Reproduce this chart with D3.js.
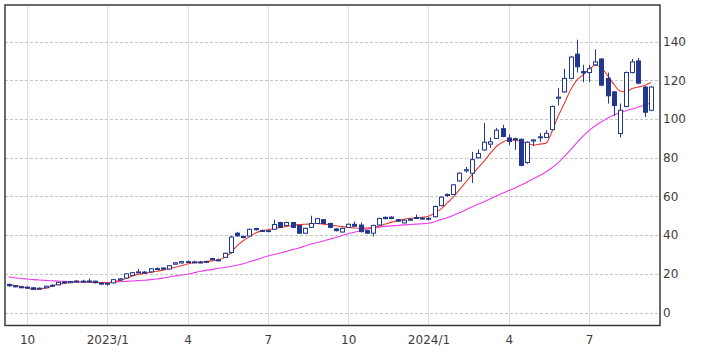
<!DOCTYPE html>
<html lang="en">
<head>
    <meta charset="UTF-8">
    <title>Weekly candlestick chart</title>
    <script src="https://d3js.org/d3.v7.min.js"></script>
    <style>
        body { margin: 0; background: #fff; }
        text { font-family: "DejaVu Sans", Verdana, sans-serif; }
    </style>
</head>
<body>
    <div id="chart-container"></div>

    <script>
        // Weekly bars, Mondays from 2022-09-12 to 2024-09-09
        const weeks = d3.utcMonday.range(new Date(Date.UTC(2022, 8, 12)), new Date(Date.UTC(2024, 8, 10)));

        const open = [
            14.5, 13.8, 13.3, 13.1, 12.8, 12.2, 12.8, 13.9, 14.3, 15.8,
            15.4, 15.8, 16.2, 16.0, 16.2, 15.2, 15.0, 15.3, 16.8, 17.8,
            19.2, 20.8, 20.9, 21.0, 22.5, 23.0, 22.5, 25.0, 25.6, 26.2,
            26.1, 26.0, 26.0, 27.9, 27.1, 28.5, 31.0, 41.0, 39.3, 39.5,
            43.4, 42.4, 42.0, 43.0, 46.5, 45.0, 46.5, 45.0, 41.0, 44.0,
            46.0, 48.0, 46.0, 43.2, 41.6, 44.0, 45.6, 45.2, 42.3, 41.0,
            45.2, 49.2, 49.3, 48.0, 46.3, 47.8, 48.8, 48.8, 48.4, 49.5,
            55.2, 61.0, 61.0, 68.0, 73.2, 72.0, 80.0, 84.0, 87.0, 90.0,
            95.0, 90.2, 89.8, 89.5, 77.5, 88.6, 90.3, 90.5, 94.5, 110.7,
            114, 121, 133.5, 124.5, 124, 128, 131, 121, 114, 92.5,
            106.5, 124, 130, 116.5, 104.5
        ];
        const close = [
            13.8, 13.4, 13.1, 12.9, 12.0, 12.6, 13.6, 14.1, 15.6, 15.3,
            16.0, 16.3, 16.1, 16.3, 15.4, 15.0, 15.1, 17.0, 17.4, 20.0,
            20.6, 21.0, 20.7, 22.6, 22.7, 22.4, 24.2, 25.7, 26.3, 26.3,
            26.2, 26.1, 26.4, 27.3, 27.2, 30.6, 39.0, 39.6, 39.0, 43.0,
            42.8, 42.1, 42.3, 45.5, 44.0, 46.5, 44.0, 41.0, 43.5, 46.0,
            48.5, 46.0, 44.0, 42.3, 43.5, 45.6, 44.6, 41.8, 41.0, 45.0,
            48.6, 48.5, 48.6, 47.2, 47.7, 48.2, 49.1, 48.5, 48.7, 54.8,
            59.6, 60.5, 66.0, 72.0, 73.8, 79.0, 82.2, 88.0, 88.2, 94.2,
            91.0, 88.4, 89.4, 76.0, 88.0, 89.2, 90.8, 92.6, 106.5, 111.3,
            121, 132, 127, 123.8, 126, 129.5, 117.5, 112, 107, 104.5,
            124, 129.5, 118.5, 103.5, 116.5
        ];
        const high = [
            15, 14.2, 13.8, 13.6, 13, 12.9, 13.9, 14.6, 15.9, 16.1,
            16.3, 16.6, 16.9, 17.6, 16.4, 15.6, 15.4, 17.3, 17.7, 20.3,
            21, 22.5, 21.4, 22.9, 23.3, 23.3, 24.5, 26, 26.8, 26.9,
            26.8, 26.7, 26.8, 28.2, 27.9, 31, 39.5, 41.7, 39.8, 43.4,
            43.8, 42.9, 42.8, 48, 46.9, 46.9, 46.8, 45.3, 43.9, 50,
            48.9, 48.3, 46.4, 43.6, 43.9, 46, 47, 46.5, 42.6, 45.4,
            49, 49.6, 49.7, 48.4, 48.1, 48.7, 50.6, 49.2, 49.2, 55.3,
            60, 61.5, 66.5, 72.5, 75.2, 83, 84.3, 98, 90.5, 95.3,
            97, 92, 90.3, 90, 88.5, 89.6, 92.7, 94.2, 107, 116,
            126, 132.6, 141, 128, 128, 136, 131.5, 124, 114.5, 108,
            124.5, 131, 131.5, 117, 117
        ];
        const low = [
            13.5, 13, 12.6, 12.4, 11.7, 11.8, 12.5, 13.5, 14.1, 15,
            15.2, 15.5, 15.6, 15.7, 15.1, 14.4, 13.9, 15, 16.5, 17.5,
            18.9, 20.4, 20.1, 20.7, 22, 22.1, 22.2, 24.7, 25.3, 25.6,
            25.5, 25.5, 25.6, 27, 26.6, 28.2, 30.5, 39.2, 38.3, 39.2,
            42.4, 41.6, 41.7, 42.7, 43.7, 44.7, 43.7, 40.6, 40.7, 43.7,
            45.7, 45.7, 43.6, 41.9, 41.2, 43.7, 44.3, 41.4, 40.6, 39.3,
            44.9, 48.2, 48.2, 46.8, 46, 47.4, 48.4, 47.9, 47.6, 49.2,
            54.9, 59.8, 60.7, 67.6, 72.3, 67, 79.6, 83.6, 85, 89.6,
            90.6, 86.5, 84, 75.6, 76.8, 86, 88.2, 90.1, 94, 107,
            113.5, 120.5, 124, 119, 119, 127.5, 117, 108, 101.5, 90.5,
            106, 123.6, 118, 101, 104
        ];
        // moving averages (red = 13 weeks, magenta = 26 weeks)
        const ma13 = [
            14.6, 14.0, 13.4, 12.8, 12.0, 12.2, 12.6, 13.6, 14.6, 15.0,
            15.5, 15.8, 16.0, 15.8, 15.6, 15.5, 15.3, 15.8, 16.5, 17.6,
            18.8, 19.7, 20.3, 20.8, 21.3, 21.9, 22.7, 23.4, 24.2, 25.1,
            25.7, 26.0, 26.3, 26.7, 27.3, 28.5, 30.9, 34.4, 37.1, 39.1,
            41.1, 42.2, 42.8, 43.4, 44.0, 44.5, 45.0, 45.4, 45.6, 45.8,
            46.0, 45.7, 45.3, 44.8, 44.4, 44.0, 43.7, 43.5, 43.7, 43.9,
            44.6, 45.7, 46.7, 47.4, 48.2, 48.7, 48.9, 49.2, 49.8, 51.4,
            53.4, 56.5, 59.6, 63.4, 67.2, 71.0, 74.6, 78.2, 82.2, 85.8,
            88.0, 89.3, 89.0, 88.3, 87.4, 86.5, 87.0, 87.4, 93.5, 101.5,
            108, 115, 120, 122.7, 125.7, 127.8, 126.5, 122.5, 118, 114.5,
            114, 115.7, 116.5, 117.3, 118.8
        ];
        const ma26 = [
            18.4, 18.0, 17.6, 17.3, 17.0, 16.8, 16.6, 16.4, 16.3, 16.1,
            16.0, 15.9, 15.8, 15.7, 15.6, 15.5, 15.5, 15.7, 15.9, 16.1,
            16.3, 16.5, 16.7, 17.0, 17.3, 17.8, 18.4, 18.9, 19.4, 19.8,
            20.5, 21.2, 21.8, 22.3, 22.9, 23.3, 23.8, 24.4, 25.2, 26.2,
            27.2, 28.2, 29.2, 30.0, 30.8, 31.6, 32.5, 33.3, 34.4, 35.4,
            36.2, 37.0, 37.9, 38.8, 39.8, 40.7, 41.5, 42.3, 43.0, 43.6,
            44.1, 44.5, 44.8, 45.0, 45.3, 45.5, 45.7, 45.9, 46.1, 46.9,
            48.0, 49.0, 50.1, 51.5, 53.0, 54.5, 55.9, 57.3, 58.7, 60.2,
            61.6, 63.0, 64.4, 65.9, 67.5, 69.1, 70.8, 72.6, 74.8, 77.5,
            80.6, 84.0, 87.6, 91.0, 94.0, 96.5, 98.5, 100.4, 102.0, 103.3,
            104.3, 105.2, 106.2, 107.2, 108.2
        ];
        const yTicks = [0, 20, 40, 60, 80, 100, 120, 140];

        const width = 709;
        const height = 354;
        const plot = { left: 5, top: 5, right: 660, bottom: 325.5 };
        const candleColor = "#22388f";

        const svg = d3.select("#chart-container")
            .append("svg")
            .attr("width", width)
            .attr("height", height);

        const xScale = d3.scalePoint()
            .domain(weeks)
            .range([8.5, 650.8]);
        const yScale = d3.scaleLinear()
            .domain([-6.7, 158.9])
            .range([plot.bottom, plot.top]);

        // first week of Jan / Apr / Jul / Oct
        const quarterWeeks = weeks.filter((d, i) =>
            d.getUTCMonth() % 3 === 0 && (i === 0 || weeks[i - 1].getUTCMonth() !== d.getUTCMonth()));

        svg.append("defs").append("clipPath")
            .attr("id", "plot-clip")
            .append("rect")
            .attr("x", plot.left)
            .attr("y", plot.top)
            .attr("width", plot.right - plot.left)
            .attr("height", plot.bottom - plot.top);

        // grid
        svg.append("g")
            .selectAll("line")
            .data(yTicks)
            .enter()
            .append("line")
            .attr("x1", plot.left)
            .attr("x2", plot.right)
            .attr("y1", d => Math.round(yScale(d)) + 0.5)
            .attr("y2", d => Math.round(yScale(d)) + 0.5)
            .attr("stroke", "#c4c4c4")
            .attr("stroke-dasharray", "3,2");

        svg.append("g")
            .selectAll("line")
            .data(quarterWeeks)
            .enter()
            .append("line")
            .attr("x1", d => Math.round(xScale(d)) + 0.5)
            .attr("x2", d => Math.round(xScale(d)) + 0.5)
            .attr("y1", plot.top)
            .attr("y2", plot.bottom)
            .attr("stroke", "#dedede");

        const chart = svg.append("g").attr("clip-path", "url(#plot-clip)");

        // moving averages
        const line = values => d3.line()
            .x((d, i) => xScale(weeks[i]))
            .y(d => yScale(d))
            .curve(d3.curveMonotoneX)(values);

        chart.append("path")
            .attr("d", line(ma26))
            .attr("fill", "none")
            .attr("stroke", "#ec3cec")
            .attr("stroke-width", 1.1);

        chart.append("path")
            .attr("d", line(ma13))
            .attr("fill", "none")
            .attr("stroke", "#ee3a2c")
            .attr("stroke-width", 1.1);

        // candles
        const candles = chart.selectAll("g.candle")
            .data(weeks)
            .enter()
            .append("g")
            .attr("class", "candle");

        candles.append("line")
            .attr("x1", d => Math.round(xScale(d)) + 0.5)
            .attr("x2", d => Math.round(xScale(d)) + 0.5)
            .attr("y1", (d, i) => yScale(high[i]))
            .attr("y2", (d, i) => yScale(low[i]))
            .attr("stroke", candleColor);

        candles.append("rect")
            .attr("x", d => Math.round(xScale(d)) - 1.5)
            .attr("width", 4)
            .attr("y", (d, i) => yScale(Math.max(open[i], close[i])))
            .attr("height", (d, i) => Math.max(1, Math.abs(yScale(open[i]) - yScale(close[i]))))
            .attr("fill", (d, i) => close[i] >= open[i] ? "#ffffff" : candleColor)
            .attr("stroke", candleColor)
            .attr("stroke-width", 1);

        // frame
        svg.append("rect")
            .attr("x", plot.left)
            .attr("y", plot.top)
            .attr("width", plot.right - plot.left)
            .attr("height", plot.bottom - plot.top)
            .attr("fill", "none")
            .attr("stroke", "#3a3a3a")
            .attr("stroke-width", 1.5);

        // axes
        const xAxis = d3.axisBottom(xScale)
            .tickValues(quarterWeeks)
            .tickSize(0)
            .tickPadding(10)
            .tickFormat(d => d.getUTCMonth() === 0 ? `${d.getUTCFullYear()}/1` : `${d.getUTCMonth() + 1}`);
        svg.append("g")
            .attr("transform", `translate(0, ${plot.bottom})`)
            .call(xAxis)
            .call(g => g.select(".domain").remove())
            .selectAll("text")
            .attr("font-size", "12px")
            .attr("fill", "#3c3c3c");

        const yAxis = d3.axisRight(yScale)
            .tickValues(yTicks)
            .tickSize(0)
            .tickPadding(3);
        svg.append("g")
            .attr("transform", `translate(${plot.right}, 0)`)
            .call(yAxis)
            .call(g => g.select(".domain").remove())
            .selectAll("text")
            .attr("font-size", "12px")
            .attr("fill", "#3c3c3c");
    </script>
</body>
</html>
